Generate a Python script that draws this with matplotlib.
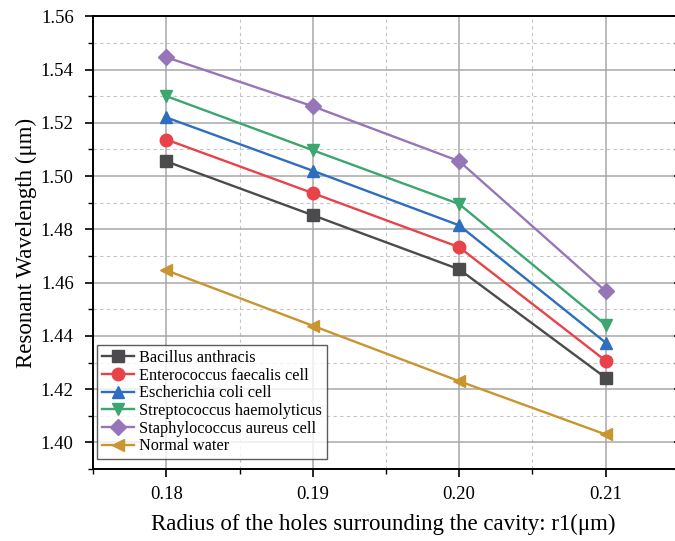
import matplotlib
matplotlib.use("Agg")
import matplotlib.pyplot as plt
from matplotlib.ticker import MultipleLocator

plt.rcParams["font.family"] = ["Liberation Serif", "DejaVu Serif"]

radius = [0.18, 0.19, 0.20, 0.21]
series_names = [
    "Bacillus anthracis",
    "Enterococcus faecalis cell",
    "Escherichia coli cell",
    "Streptococcus haemolyticus",
    "Staphylococcus aureus cell",
    "Normal water",
]
bacillus = [1.5055, 1.4853, 1.4650, 1.4243]
enterococcus = [1.5137, 1.4936, 1.4733, 1.4307]
escherichia = [1.5220, 1.5020, 1.4815, 1.4375]
streptococcus = [1.5300, 1.5097, 1.4895, 1.4442]
staphylococcus = [1.5446, 1.5262, 1.5056, 1.4568]
water = [1.4646, 1.4438, 1.4230, 1.4030]

values = [bacillus, enterococcus, escherichia, streptococcus, staphylococcus, water]
colors = ["#4b4b4d", "#e8424a", "#2d6ebf", "#3ba66f", "#9676b8", "#c8952e"]
markers = ["s", "o", "^", "v", "D", "<"]
sizes = [8, 9, 9, 9, 8, 9]

fig = plt.figure(figsize=(6.75, 5.41), dpi=100)
ax = fig.add_axes([0.138, 0.133, 0.861, 0.837])

for name, vals, c, m, s in zip(series_names, values, colors, markers, sizes):
    ax.plot(radius, vals, color=c, marker=m, markersize=s, linewidth=1.7,
            label=name, zorder=3)

ax.set_xlim(0.175, 0.2147)
ax.set_ylim(1.39, 1.56)
ax.xaxis.set_minor_locator(MultipleLocator(0.005))
ax.yaxis.set_minor_locator(MultipleLocator(0.01))
ax.set_xticks(radius)
ax.set_xticklabels(["0.18", "0.19", "0.20", "0.21"])
ax.set_yticks([1.40, 1.42, 1.44, 1.46, 1.48, 1.50, 1.52, 1.54, 1.56])
ax.set_yticklabels(["1.40", "1.42", "1.44", "1.46", "1.48", "1.50", "1.52", "1.54", "1.56"])

ax.grid(which="major", color="#a8a8a8", linewidth=1.1, linestyle="-", zorder=0)
ax.grid(which="minor", color="#c4c4c4", linewidth=0.8, linestyle=(0, (3, 3)), zorder=0)
ax.set_axisbelow(True)

ax.spines["right"].set_visible(False)
for sp in ["left", "bottom", "top"]:
    ax.spines[sp].set_linewidth(1.4)
    ax.spines[sp].set_color("black")

ax.tick_params(axis="both", which="major", direction="out", length=6, width=1.2,
               labelsize=13.5, pad=8)
ax.tick_params(axis="both", which="minor", direction="out", length=3.5, width=1.0)
ax.tick_params(axis="y", which="both", right=True)
ax.tick_params(axis="x", which="major", pad=6)

ax.set_xlabel("Radius of the holes surrounding the cavity: r1(\u03bcm)", fontsize=16.5, labelpad=8)
ax.set_ylabel("Resonant Wavelength (\u03bcm)", fontsize=16.5, labelpad=3)

leg = ax.legend(loc="lower left", bbox_to_anchor=(0.006, 0.022), fontsize=11.7,
                frameon=True, fancybox=False, edgecolor="#333333",
                handlelength=2.0, handletextpad=0.3, labelspacing=0.1,
                borderpad=0.3, borderaxespad=0.0)
leg.get_frame().set_linewidth(1.0)

fig.savefig("out.png", dpi=100)
plt.close(fig)
